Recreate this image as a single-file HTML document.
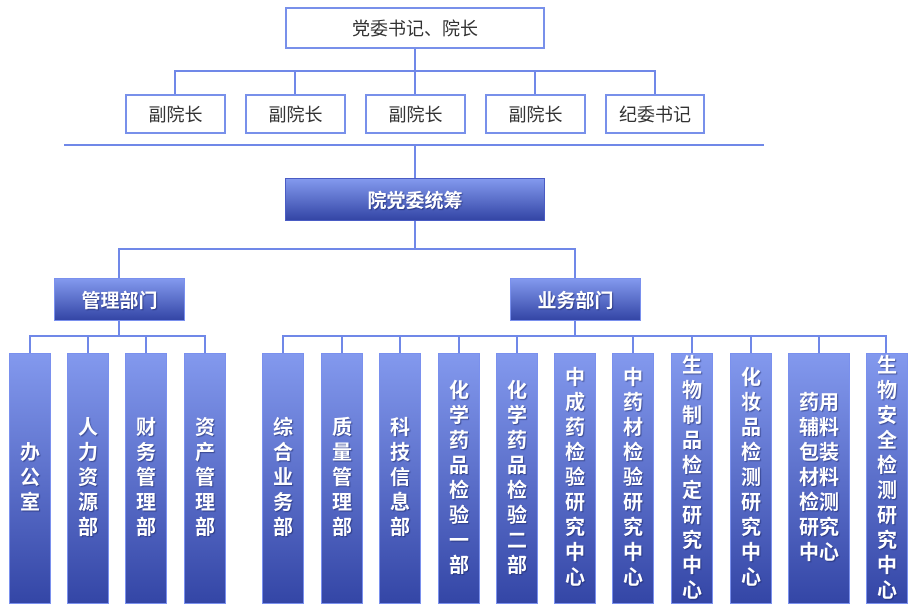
<!DOCTYPE html>
<html><head><meta charset="utf-8"><style>
*{margin:0;padding:0;box-sizing:border-box}
body{width:918px;height:612px;background:#fff;position:relative;overflow:hidden;font-family:"Liberation Sans","Noto Sans CJK SC",sans-serif}
.l{position:absolute;background:#7088e8}
.w{position:absolute;border:2px solid #7890ea;background:#fff;color:#333;font-size:18px;display:flex;align-items:center;justify-content:center}
.g{position:absolute;border:1.5px solid #7a90ee;background:linear-gradient(to bottom,#8399ee,#3446a6);color:#fff;font-weight:bold;display:flex;align-items:center;justify-content:center;text-shadow:1px 1px 1px rgba(20,30,90,.55)}
.h{font-size:19px}
.v{top:353px;height:251px;width:42px;font-size:20px}
.v span{display:block;width:1em;line-height:25px;text-align:center;word-break:break-all}
.v span.two{width:2em}
</style></head><body>
<!-- top -->
<div class="w" style="left:285px;top:7px;width:260px;height:42px">党委书记、院长</div>
<div class="l" style="left:414px;top:49px;width:2px;height:22px"></div>
<div class="l" style="left:175px;top:70px;width:481px;height:2px"></div>
<div class="l" style="left:174px;top:70px;width:2px;height:24px"></div>
<div class="l" style="left:294px;top:70px;width:2px;height:24px"></div>
<div class="l" style="left:414px;top:70px;width:2px;height:24px"></div>
<div class="l" style="left:534px;top:70px;width:2px;height:24px"></div>
<div class="l" style="left:654px;top:70px;width:2px;height:24px"></div>
<div class="w" style="left:125px;top:94px;width:101px;height:40px">副院长</div>
<div class="w" style="left:245px;top:94px;width:101px;height:40px">副院长</div>
<div class="w" style="left:365px;top:94px;width:101px;height:40px">副院长</div>
<div class="w" style="left:485px;top:94px;width:101px;height:40px">副院长</div>
<div class="w" style="left:605px;top:94px;width:100px;height:40px">纪委书记</div>
<div class="l" style="left:64px;top:144px;width:700px;height:2px"></div>
<div class="l" style="left:414px;top:145px;width:2px;height:33px"></div>
<div class="g h" style="left:285px;top:178px;width:260px;height:43px;border-color:#4a5cc4">院党委统筹</div>
<div class="l" style="left:414px;top:221px;width:2px;height:28px"></div>
<div class="l" style="left:118px;top:248px;width:458px;height:2px"></div>
<div class="l" style="left:118px;top:248px;width:2px;height:30px"></div>
<div class="l" style="left:574px;top:248px;width:2px;height:30px"></div>
<div class="g h" style="left:54px;top:278px;width:131px;height:43px">管理部门</div>
<div class="g h" style="left:510px;top:278px;width:131px;height:43px">业务部门</div>
<div class="l" style="left:118px;top:321px;width:2px;height:15px"></div>
<div class="l" style="left:574px;top:321px;width:2px;height:15px"></div>
<div class="l" style="left:29px;top:335px;width:176px;height:2px"></div>
<div class="l" style="left:282px;top:335px;width:605px;height:2px"></div>
<!-- stems -->
<div class="l" style="left:29px;top:335px;width:2px;height:18px"></div>
<div class="l" style="left:87px;top:335px;width:2px;height:18px"></div>
<div class="l" style="left:145px;top:335px;width:2px;height:18px"></div>
<div class="l" style="left:204px;top:335px;width:2px;height:18px"></div>
<div class="l" style="left:282px;top:335px;width:2px;height:18px"></div>
<div class="l" style="left:341px;top:335px;width:2px;height:18px"></div>
<div class="l" style="left:399px;top:335px;width:2px;height:18px"></div>
<div class="l" style="left:458px;top:335px;width:2px;height:18px"></div>
<div class="l" style="left:516px;top:335px;width:2px;height:18px"></div>
<div class="l" style="left:632px;top:335px;width:2px;height:18px"></div>
<div class="l" style="left:691px;top:335px;width:2px;height:18px"></div>
<div class="l" style="left:750px;top:335px;width:2px;height:18px"></div>
<div class="l" style="left:818px;top:335px;width:2px;height:18px"></div>
<div class="l" style="left:885px;top:335px;width:2px;height:18px"></div>
<!-- boxes -->
<div class="g v" style="left:9px"><span>办公室</span></div>
<div class="g v" style="left:67px"><span>人力资源部</span></div>
<div class="g v" style="left:125px"><span>财务管理部</span></div>
<div class="g v" style="left:184px"><span>资产管理部</span></div>
<div class="g v" style="left:262px"><span>综合业务部</span></div>
<div class="g v" style="left:321px"><span>质量管理部</span></div>
<div class="g v" style="left:379px"><span>科技信息部</span></div>
<div class="g v" style="left:438px"><span>化学药品检验一部</span></div>
<div class="g v" style="left:496px"><span>化学药品检验二部</span></div>
<div class="g v" style="left:554px"><span>中成药检验研究中心</span></div>
<div class="g v" style="left:612px"><span>中药材检验研究中心</span></div>
<div class="g v" style="left:671px"><span>生物制品检定研究中心</span></div>
<div class="g v" style="left:730px"><span>化妆品检测研究中心</span></div>
<div class="g v" style="left:788px;width:62px"><span class="two">药用辅料包装材料检测研究中心</span></div>
<div class="g v" style="left:866px"><span>生物安全检测研究中心</span></div>
</body></html>
